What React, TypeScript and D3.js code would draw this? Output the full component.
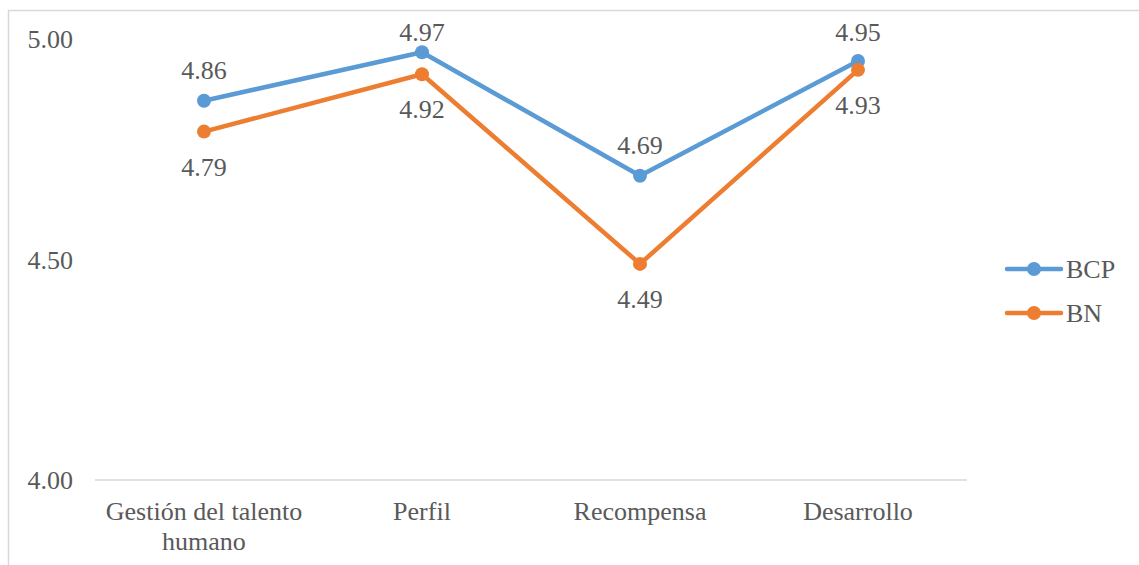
import React from "react";
import * as d3 from "d3";

const categories = ["Gestión del talento humano", "Perfil", "Recompensa", "Desarrollo"];
const bcpValues = [4.86, 4.97, 4.69, 4.95];
const bnValues = [4.79, 4.92, 4.49, 4.93];
const yTicks = [4.0, 4.5, 5.0];

const series = [
  { name: "BCP", values: bcpValues, color: "#5B9BD5", labelPos: "above" },
  { name: "BN", values: bnValues, color: "#ED7D31", labelPos: "below" },
];

const W = 1139;
const H = 565;
const FONT = '"Liberation Serif", "Times New Roman", Times, serif';
const TEXT = "#595959";

// split long category names onto two lines
const wrapLabel = (s: string): string[] =>
  s === "Gestión del talento humano" ? ["Gestión del talento", "humano"] : [s];

export default function App() {
  const x = d3.scalePoint<string>().domain(categories).range([95, 967]).padding(0.5);
  const y = d3.scaleLinear().domain([4, 5]).range([480, 39]);

  const line = d3
    .line<number>()
    .x((_, i) => x(categories[i]) as number)
    .y((d) => y(d));

  const txt = { fontFamily: FONT, fontSize: 26, fill: TEXT } as const;

  // labels above a point are kept from running past the top of the chart area
  const labelY = (v: number, pos: string) =>
    pos === "above" ? Math.max(y(v) - 22, 41) : y(v) + 44;

  return (
    <svg
      width={W}
      height={H}
      style={{ position: "absolute", left: 0, top: 0, background: "#fff", fontFamily: FONT }}
    >
      <rect x={8.5} y={10.5} width={W + 20} height={H + 20} fill="none" stroke="#d9d9d9" strokeWidth={1.5} />

      {/* y axis tick labels */}
      {yTicks.map((t) => (
        <text key={t} x={73} y={y(t)} dy="0.35em" textAnchor="end" style={txt}>
          {d3.format(".2f")(t)}
        </text>
      ))}

      {/* category axis */}
      <line x1={95} x2={967} y1={y(4)} y2={y(4)} stroke="#d9d9d9" strokeWidth={1.5} />
      {categories.map((c) => (
        <text key={c} x={x(c)} y={520} textAnchor="middle" style={txt}>
          {wrapLabel(c).map((ln, i) => (
            <tspan key={i} x={x(c)} dy={i === 0 ? 0 : 30}>
              {ln}
            </tspan>
          ))}
        </text>
      ))}

      {/* series lines, markers and value labels */}
      {series.map((s) => (
        <g key={s.name}>
          <path d={line(s.values) || ""} fill="none" stroke={s.color} strokeWidth={4.5} strokeLinejoin="round" strokeLinecap="round" />
          {s.values.map((v, i) => (
            <circle key={i} cx={x(categories[i])} cy={y(v)} r={7} fill={s.color} />
          ))}
        </g>
      ))}
      {series.map((s) =>
        s.values.map((v, i) => (
          <text
            key={s.name + i}
            x={x(categories[i])}
            y={labelY(v, s.labelPos)}
            textAnchor="middle"
            style={txt}
          >
            {d3.format(".2f")(v)}
          </text>
        ))
      )}

      {/* legend */}
      {series.map((s, i) => {
        const ly = 269 + i * 44;
        return (
          <g key={s.name}>
            <line x1={1007} x2={1061} y1={ly} y2={ly} stroke={s.color} strokeWidth={4.5} strokeLinecap="round" />
            <circle cx={1034} cy={ly} r={7} fill={s.color} />
            <text x={1066} y={ly} dy="0.35em" style={txt}>
              {s.name}
            </text>
          </g>
        );
      })}
    </svg>
  );
}
